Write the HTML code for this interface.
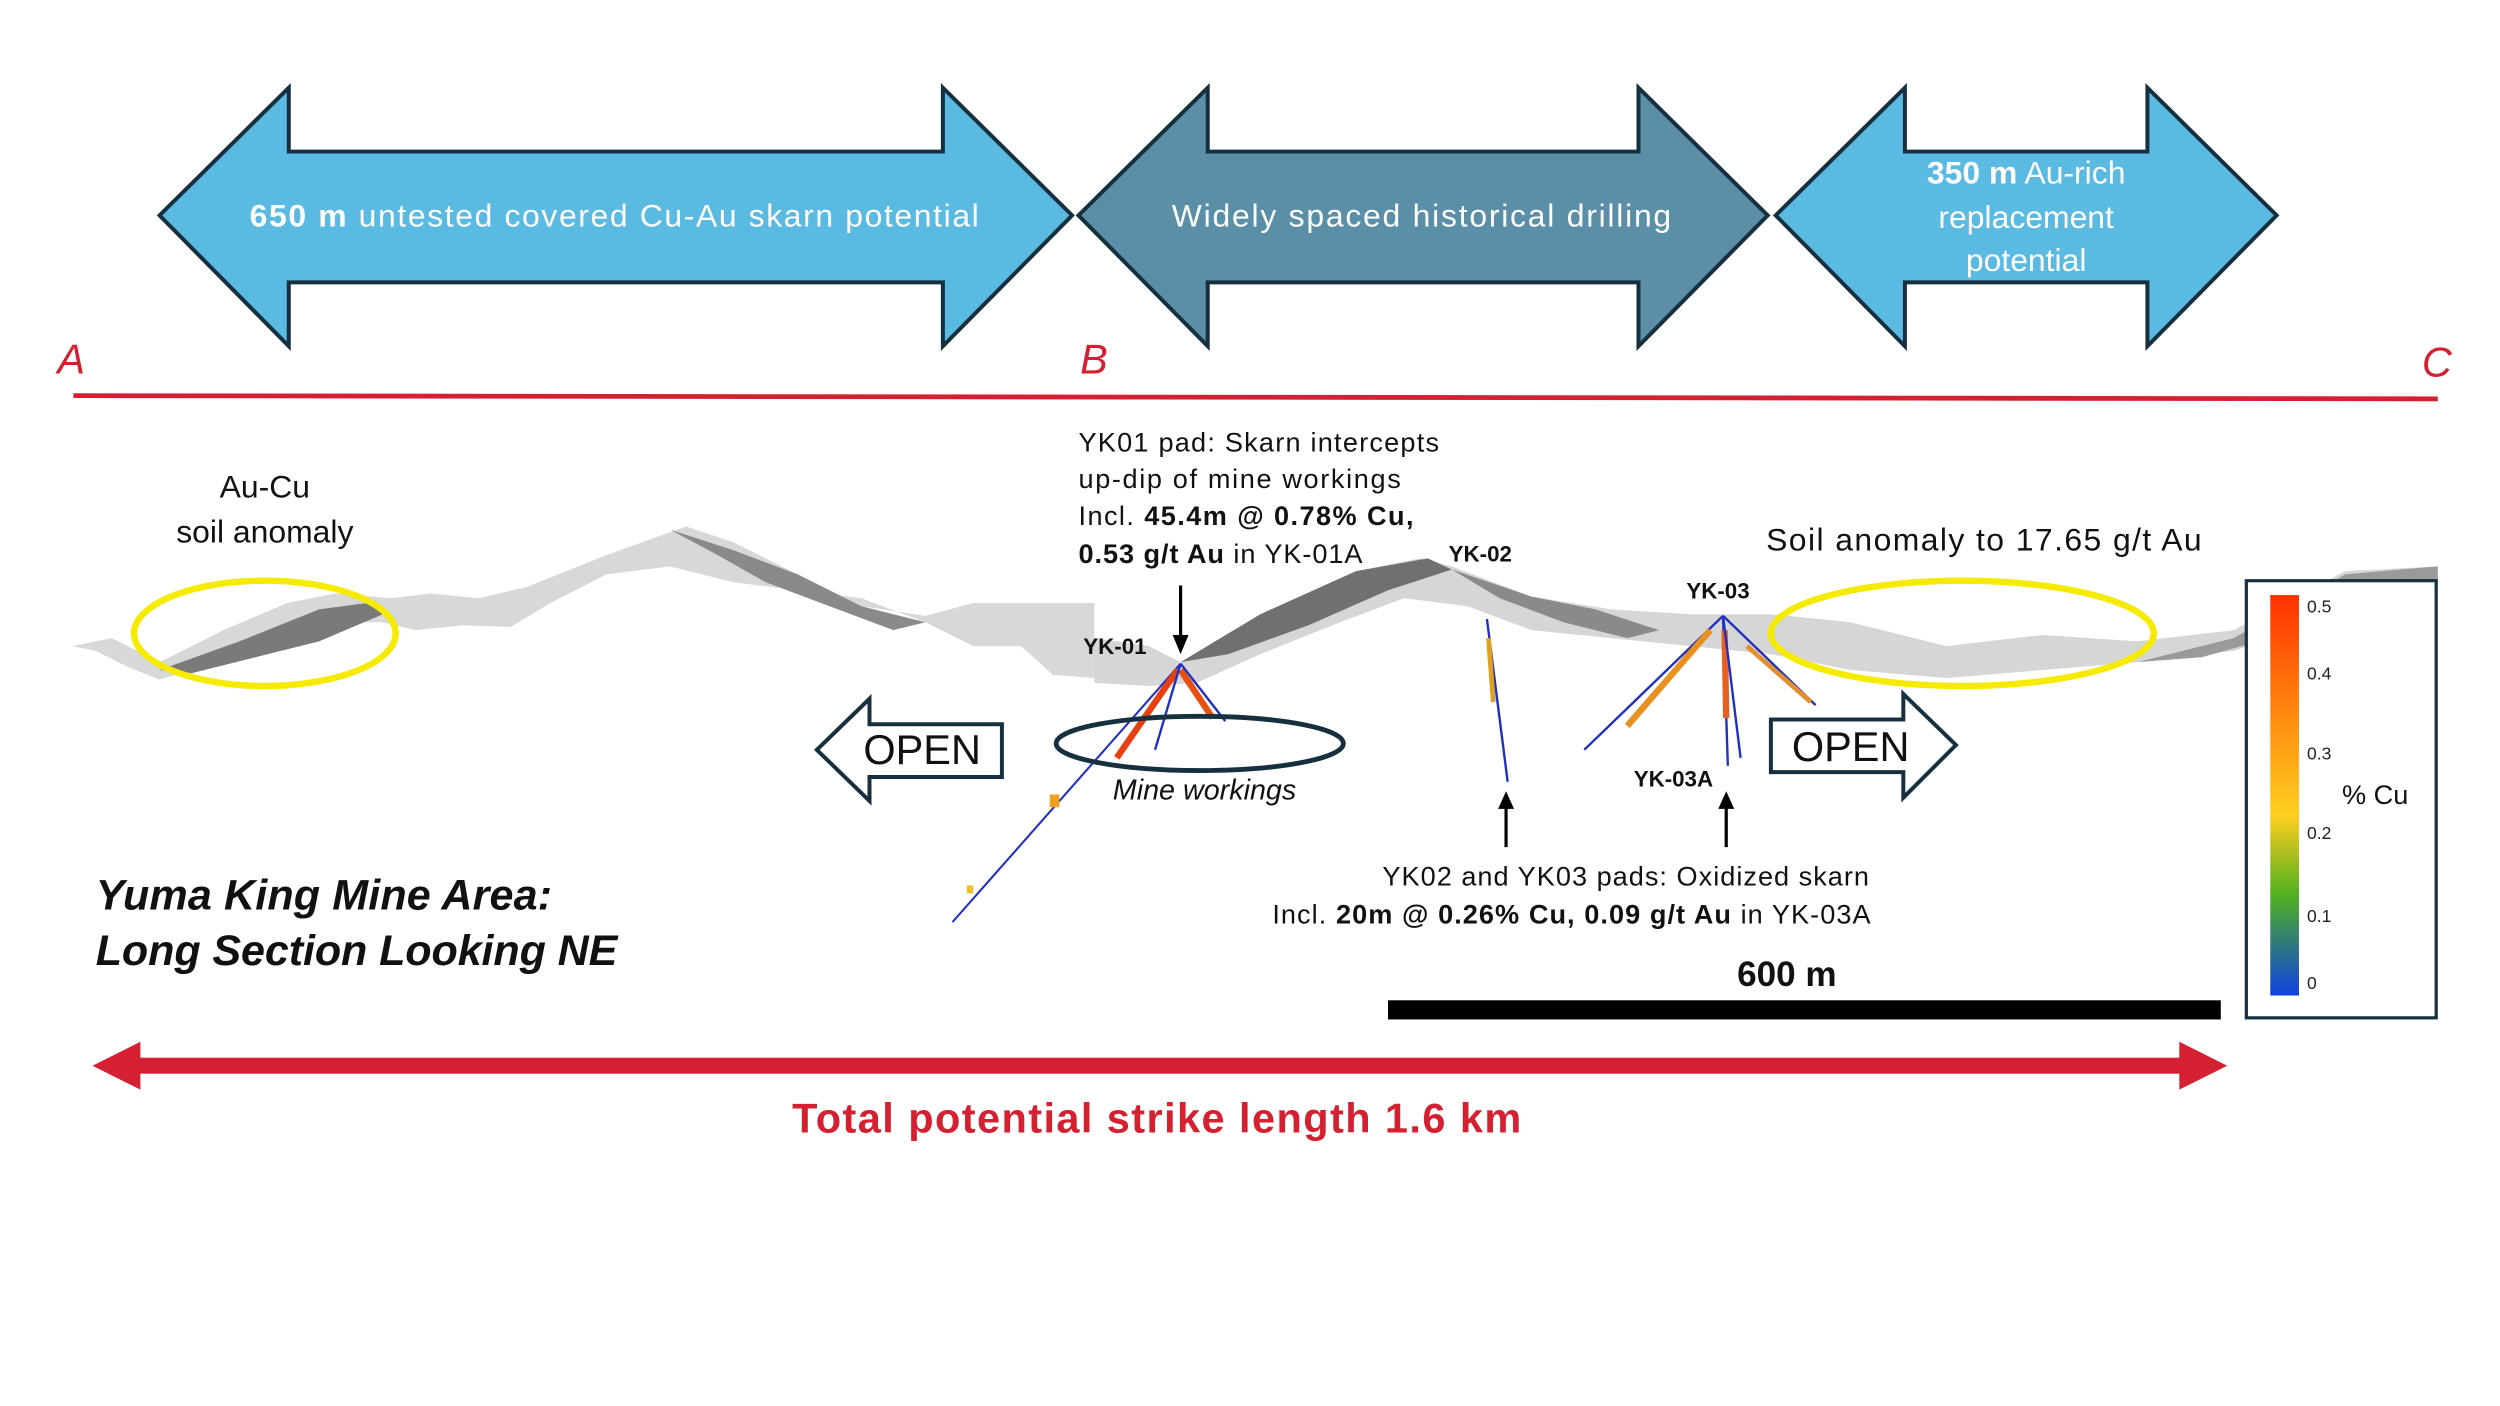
<!DOCTYPE html>
<html><head><meta charset="utf-8"><style>html,body{margin:0;padding:0;background:#fff}svg{display:block}text{font-family:"Liberation Sans",sans-serif}</style></head>
<body>
<svg width="2500" height="1406" viewBox="0 0 1567 881.3" preserveAspectRatio="none" xmlns="http://www.w3.org/2000/svg">
<defs>
<linearGradient id="cu" x1="0" y1="0" x2="0" y2="1">
<stop offset="0" stop-color="#ff3000"/><stop offset="0.3" stop-color="#ff8a10"/><stop offset="0.55" stop-color="#ffcf20"/><stop offset="0.75" stop-color="#50b020"/><stop offset="1" stop-color="#1040e0"/>
</linearGradient>
</defs>
<rect width="1570" height="890" fill="#fff"/>
<polygon points="100,135 181,55 181,95 591,95 591,55 672,135 591,217 591,177 181,177 181,217" fill="#5bbae2" stroke="#16303f" stroke-width="2.5"/>
<polygon points="676,135 757,55 757,95 1027,95 1027,55 1108,135 1027,217 1027,177 757,177 757,217" fill="#5b8fa8" stroke="#16303f" stroke-width="2.5"/>
<polygon points="1113,135 1194,55 1194,95 1346,95 1346,55 1427,135 1346,217 1346,177 1194,177 1194,217" fill="#5bbae2" stroke="#16303f" stroke-width="2.5"/>
<text x="385" y="142" font-size="20" fill="#fff" text-anchor="middle" textLength="457"><tspan font-weight="bold">650 m</tspan> untested covered Cu-Au skarn potential</text>
<text x="891" y="142" font-size="20" fill="#fff" text-anchor="middle" textLength="313">Widely spaced historical drilling</text>
<text x="1270" y="115" font-size="20" fill="#fff" text-anchor="middle"><tspan font-weight="bold">350 m</tspan> Au-rich</text>
<text x="1270" y="143" font-size="20" fill="#fff" text-anchor="middle">replacement</text>
<text x="1270" y="170" font-size="20" fill="#fff" text-anchor="middle">potential</text>
<text x="36" y="234" font-size="26" fill="#d42030" font-style="italic">A</text>
<text x="677" y="234" font-size="26" fill="#d42030" font-style="italic">B</text>
<text x="1518" y="236" font-size="26" fill="#d42030" font-style="italic">C</text>
<line x1="46" y1="248" x2="1528" y2="250" stroke="#d42030" stroke-width="3"/>
<polygon points="45,405 70,400 100,415 140,395 180,378 210,372 245,375 270,372 300,375 330,368 380,348 430,330 460,340 500,360 540,380 580,386 610,378 640,378 686,378 686,425 660,423 640,405 610,405 580,390 540,375 500,370 460,365 420,355 380,360 345,378 320,393 290,392 260,395 240,390 220,390 190,400 155,410 120,420 100,426 80,418 60,408" fill="#d8d8d8"/>
<polygon points="100,420 150,402 200,382 230,378 240,385 200,402 160,412 120,422" fill="#7a7a7a"/>
<polygon points="420,332 460,345 500,360 540,380 580,390 560,395 520,380 480,365 450,348" fill="#8a8a8a"/>
<polygon points="686,400 720,405 740,415 790,385 850,358 890,350 910,355 960,374 1010,382 1060,385 1110,385 1160,390 1220,405 1280,398 1340,402 1400,395 1470,358 1528,355 1528,370 1480,370 1440,395 1400,408 1340,415 1280,420 1220,425 1160,420 1110,410 1060,405 1010,400 960,395 920,380 880,375 840,390 790,410 750,428 720,430 686,428" fill="#d6d6d6"/>
<polygon points="740,415 790,385 850,358 895,350 910,357 870,370 820,392 770,410" fill="#707070"/>
<polygon points="910,357 960,374 1000,382 1040,395 1020,400 980,390 940,375" fill="#8a8a8a"/>
<polygon points="1340,415 1400,400 1470,360 1528,355 1528,365 1480,368 1430,398 1380,412" fill="#9a9a9a"/>
<ellipse cx="166" cy="397" rx="82" ry="33" fill="none" stroke="#f5ea00" stroke-width="4"/>
<ellipse cx="1230" cy="397" rx="120" ry="33" fill="none" stroke="#f5ea00" stroke-width="4"/>
<text x="166" y="312" font-size="20" text-anchor="middle" fill="#111">Au-Cu</text>
<text x="166" y="340" font-size="20" text-anchor="middle" fill="#111">soil anomaly</text>
<text x="1107" y="345" font-size="20" fill="#111" textLength="273">Soil anomaly to 17.65 g/t Au</text>
<text x="676" y="283" font-size="17" fill="#111" textLength="226">YK01 pad: Skarn intercepts</text>
<text x="676" y="306" font-size="17" fill="#111" textLength="202">up-dip of mine workings</text>
<text x="676" y="329" font-size="17" fill="#111" textLength="210">Incl. <tspan font-weight="bold">45.4m @ 0.78% Cu,</tspan></text>
<text x="676" y="353" font-size="17" fill="#111" textLength="178"><tspan font-weight="bold">0.53 g/t Au</tspan> in YK-01A</text>
<line x1="740" y1="367" x2="740" y2="400" stroke="#000" stroke-width="2"/>
<polygon points="735,398 745,398 740,410" fill="#000"/>
<text x="679" y="410" font-size="14" font-weight="bold" fill="#111">YK-01</text>
<text x="908" y="352" font-size="14" font-weight="bold" fill="#111">YK-02</text>
<text x="1057" y="375" font-size="14" font-weight="bold" fill="#111">YK-03</text>
<text x="1024" y="493" font-size="14" font-weight="bold" fill="#111">YK-03A</text>
<line x1="740" y1="416" x2="597" y2="578" stroke="#2030c0" stroke-width="1.3"/>
<line x1="738" y1="420" x2="700" y2="475" stroke="#e84010" stroke-width="4"/>
<line x1="740" y1="420" x2="760" y2="450" stroke="#e85010" stroke-width="4"/>
<line x1="740" y1="416" x2="724" y2="470" stroke="#2030c0" stroke-width="1.5"/>
<line x1="740" y1="416" x2="768" y2="452" stroke="#2030c0" stroke-width="1.5"/>
<rect x="658" y="498" width="6" height="8" fill="#f0a020"/>
<rect x="606" y="555" width="4" height="5" fill="#f0c020"/>
<line x1="932" y1="388" x2="945" y2="490" stroke="#2030c0" stroke-width="1.5"/>
<line x1="933" y1="400" x2="936" y2="440" stroke="#e0a020" stroke-width="3"/>
<line x1="1080" y1="386" x2="993" y2="470" stroke="#2030c0" stroke-width="1.5"/>
<line x1="1072" y1="395" x2="1020" y2="455" stroke="#e89020" stroke-width="4"/>
<line x1="1080" y1="386" x2="1083" y2="480" stroke="#2030c0" stroke-width="1.5"/>
<line x1="1081" y1="395" x2="1082" y2="450" stroke="#e86020" stroke-width="4"/>
<line x1="1080" y1="386" x2="1091" y2="475" stroke="#2030c0" stroke-width="1.5"/>
<line x1="1080" y1="386" x2="1138" y2="442" stroke="#2030c0" stroke-width="1.5"/>
<line x1="1095" y1="405" x2="1135" y2="440" stroke="#e09030" stroke-width="3"/>
<ellipse cx="752" cy="466" rx="90" ry="17" fill="none" stroke="#16303f" stroke-width="3"/>
<text x="755" y="501" font-size="18" font-style="italic" text-anchor="middle" fill="#111">Mine workings</text>
<polygon points="512,470 545,438 545,454 628,454 628,487 545,487 545,502" fill="#fff" stroke="#16303f" stroke-width="2.5"/>
<text x="578" y="479" font-size="26" text-anchor="middle" fill="#111">OPEN</text>
<polygon points="1226,467 1193,435 1193,451 1110,451 1110,484 1193,484 1193,500" fill="#fff" stroke="#16303f" stroke-width="2.5"/>
<text x="1160" y="477" font-size="26" text-anchor="middle" fill="#111">OPEN</text>
<line x1="944" y1="531" x2="944" y2="505" stroke="#000" stroke-width="2"/>
<polygon points="939,507 949,507 944,496" fill="#000"/>
<line x1="1082" y1="531" x2="1082" y2="505" stroke="#000" stroke-width="2"/>
<polygon points="1077,507 1087,507 1082,496" fill="#000"/>
<text x="1019" y="555" font-size="17" text-anchor="middle" fill="#111" textLength="305">YK02 and YK03 pads: Oxidized skarn</text>
<text x="985" y="579" font-size="17" text-anchor="middle" fill="#111" textLength="375">Incl. <tspan font-weight="bold">20m @ 0.26% Cu, 0.09 g/t Au</tspan> in YK-03A</text>
<text x="60" y="570" font-size="27" font-weight="bold" font-style="italic" fill="#111" textLength="286">Yuma King Mine Area:</text>
<text x="60" y="605" font-size="27" font-weight="bold" font-style="italic" fill="#111" textLength="327">Long Section Looking NE</text>
<text x="1120" y="618" font-size="22" font-weight="bold" text-anchor="middle" fill="#111">600 m</text>
<rect x="870" y="627" width="522" height="12" fill="#000"/>
<rect x="1408" y="364" width="119" height="274" fill="#fff" stroke="#16303f" stroke-width="2"/>
<rect x="1423" y="373" width="18" height="251" fill="url(#cu)"/>
<g font-size="11" fill="#222">
<text x="1446" y="384">0.5</text><text x="1446" y="426">0.4</text><text x="1446" y="476">0.3</text><text x="1446" y="526">0.2</text><text x="1446" y="578">0.1</text><text x="1446" y="620">0</text>
</g>
<text x="1468" y="504" font-size="17" fill="#111">% Cu</text>
<rect x="84" y="663" width="1286" height="10" fill="#d42030"/>
<polygon points="58,668 88,653 88,683" fill="#d42030"/>
<polygon points="1396,668 1366,653 1366,683" fill="#d42030"/>
<text x="725" y="710" font-size="26" font-weight="bold" text-anchor="middle" fill="#d42030" textLength="457">Total potential strike length 1.6 km</text>
</svg>
</body></html>
